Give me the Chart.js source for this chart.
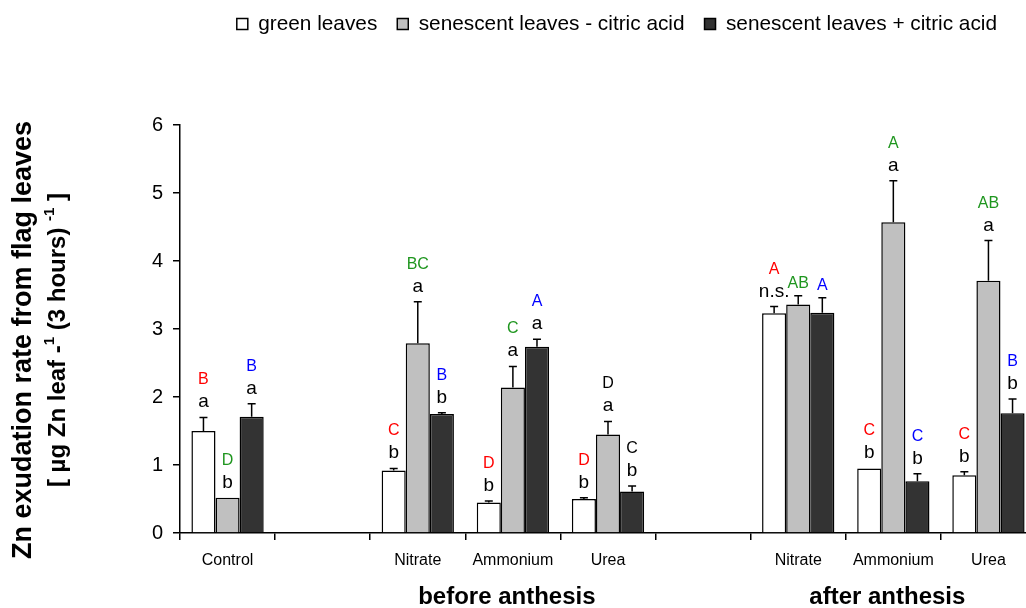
<!DOCTYPE html>
<html>
<head>
<meta charset="utf-8">
<script src="https://cdn.jsdelivr.net/npm/chart.js@4"></script>
<style>
    html, body { margin: 0; padding: 0; background: #fff; overflow: hidden; }
</style>
</head>
<body>
<canvas id="zn-chart" width="1036" height="608"></canvas>
<script>
// categories along the x axis ('' = empty spacer slot)
const categories = ['Control', '', 'Nitrate', 'Ammonium', 'Urea', '', 'Nitrate', 'Ammonium', 'Urea'];
const seriesNames = ['green leaves', 'senescent leaves - citric acid', 'senescent leaves + citric acid'];

// mean Zn exudation rate
const greenLeaves    = [1.50, null, 0.92, 0.45, 0.50, null, 3.23, 0.95, 0.85];
const senescentMinus = [0.52, null, 2.79, 2.14, 1.45, null, 3.36, 4.57, 3.71];
const senescentPlus  = [1.71, null, 1.75, 2.74, 0.61, null, 3.24, 0.76, 1.76];

// error (upper half of error bar)
const greenErr          = [0.20, null, 0.03, 0.02, 0.02, null, 0.10, 0.00, 0.05];
const senescentMinusErr = [0.00, null, 0.61, 0.31, 0.19, null, 0.13, 0.61, 0.59];
const senescentPlusErr  = [0.19, null, 0.02, 0.11, 0.08, null, 0.22, 0.11, 0.21];

// significance letters above the bars
const greenUpper          = ['B', '', 'C', 'D', 'D', '', 'A', 'C', 'C'];
const greenLower          = ['a', '', 'b', 'b', 'b', '', 'n.s.', 'b', 'b'];
const senescentMinusUpper = ['D', '', 'BC', 'C', 'D', '', 'AB', 'A', 'AB'];
const senescentMinusLower = ['b', '', 'a', 'a', 'a', '', '', 'a', 'a'];
const senescentPlusUpper  = ['B', '', 'B', 'A', 'C', '', 'A', 'C', 'B'];
const senescentPlusLower  = ['a', '', 'b', 'a', 'b', '', '', 'b', 'b'];

const yTicks = [0, 1, 2, 3, 4, 5, 6];
const groupLabels = ['before anthesis', 'after anthesis'];
const groupCenters = [3, 7]; // category index each group label sits under

// colours of the capital letters (a few are printed in black)
const RED = '#ff0000', GREEN = '#1f961f', BLUE = '#0000ff', BLK = '#000000';
const greenUpperColor = Array(9).fill(RED);
const minusUpperColor = [GREEN, GREEN, GREEN, GREEN, BLK, GREEN, GREEN, GREEN, GREEN];
const plusUpperColor  = [BLUE, BLUE, BLUE, BLUE, BLK, BLUE, BLUE, BLUE, BLUE];

const FONT = "'Liberation Sans', Arial, sans-serif";
Chart.defaults.font.family = FONT;
Chart.defaults.color = '#000';

// error bars + letters
const errorBars = {
    id: 'errorBars',
    afterDatasetsDraw(chart) {
        const ctx = chart.ctx;
        const yScale = chart.scales.y;
        ctx.save();
        chart.data.datasets.forEach((ds, i) => {
            const meta = chart.getDatasetMeta(i);
            meta.data.forEach((bar, j) => {
                const v = ds.data[j];
                if (v == null) return;
                const top = yScale.getPixelForValue(v + ds.errors[j]);
                ctx.strokeStyle = '#000';
                ctx.lineWidth = 1.5;
                if (ds.errors[j] > 0) {
                    ctx.beginPath();
                    ctx.moveTo(bar.x, bar.y);
                    ctx.lineTo(bar.x, top);
                    ctx.moveTo(bar.x - 4, top);
                    ctx.lineTo(bar.x + 4, top);
                    ctx.stroke();
                }
                ctx.textAlign = 'center';
                ctx.textBaseline = 'alphabetic';
                let base;
                if (ds.lower[j]) {
                    base = top - 10;
                    ctx.fillStyle = '#000';
                    ctx.font = '19px ' + FONT;
                    ctx.fillText(ds.lower[j], bar.x, base);
                    base -= 23;
                } else {
                    base = top - 8;
                }
                if (ds.upper[j]) {
                    ctx.fillStyle = ds.upperColor[j];
                    ctx.font = '16px ' + FONT;
                    ctx.fillText(ds.upper[j], bar.x, base);
                }
            });
        });
        ctx.restore();
    }
};

// y title, group labels, legend placement
const extras = {
    id: 'extras',
    afterLayout(chart) {
        // pull legend up into the top margin and right-align it
        const lg = chart.legend;
        const h = lg.bottom - lg.top;
        lg.top = -6.4;
        lg.bottom = lg.top + h;
        lg.right = 1017;
    },
    afterDraw(chart) {
        const ctx = chart.ctx;
        const area = chart.chartArea;
        const x = chart.scales.x;
        ctx.save();
        ctx.fillStyle = '#000';
        ctx.textAlign = 'center';
        ctx.textBaseline = 'middle';
        ctx.font = 'bold 24px ' + FONT;
        groupLabels.forEach((t, k) => {
            ctx.fillText(t, x.getPixelForValue(groupCenters[k]) - 6, 597);
        });

        // y axis title, two rotated lines
        const cy = (area.top + area.bottom) / 2 + 11;
        ctx.translate(0, cy);
        ctx.rotate(-Math.PI / 2);
        ctx.textAlign = 'center';
        ctx.font = 'bold 27px ' + FONT;
        ctx.fillText('Zn exudation rate from flag leaves', 0, 24);

        const parts = [
            ['[ \u00b5g Zn leaf -', false],
            ['1', true],
            [' (3 hours) ', false],
            ['-1', true],
            [' ]', false]
        ];
        const big = 'bold 24px ' + FONT, small = 'bold 15px ' + FONT;
        let total = 0;
        parts.forEach(p => { ctx.font = p[1] ? small : big; total += ctx.measureText(p[0]).width; });
        let px = -total / 2;
        ctx.textAlign = 'left';
        parts.forEach(p => {
            ctx.font = p[1] ? small : big;
            ctx.fillText(p[0], px, p[1] ? 50 : 58);
            px += ctx.measureText(p[0]).width;
        });
        ctx.restore();
    }
};

const ctx = document.getElementById('zn-chart').getContext('2d');
const znChart = new Chart(ctx, {
    type: 'bar',
    data: {
        labels: categories,
        datasets: [{
            label: seriesNames[0],
            data: greenLeaves,
            errors: greenErr,
            upper: greenUpper,
            lower: greenLower,
            upperColor: greenUpperColor,
            backgroundColor: '#ffffff',
            borderColor: '#000',
            borderWidth: 1.5,
        }, {
            label: seriesNames[1],
            data: senescentMinus,
            errors: senescentMinusErr,
            upper: senescentMinusUpper,
            lower: senescentMinusLower,
            upperColor: minusUpperColor,
            backgroundColor: '#c0c0c0',
            borderColor: '#000',
            borderWidth: 1.5,
        }, {
            label: seriesNames[2],
            data: senescentPlus,
            errors: senescentPlusErr,
            upper: senescentPlusUpper,
            lower: senescentPlusLower,
            upperColor: plusUpperColor,
            backgroundColor: '#333333',
            borderColor: '#000',
            borderWidth: 1.5,
        }]
    },
    options: {
        responsive: false,
        animation: false,
        categoryPercentage: 0.76,
        barPercentage: 1.0,
        layout: { padding: { top: 74.2, left: 140, right: 0, bottom: 0 } },
        plugins: {
            tooltip: { enabled: false },
            legend: {
                position: 'top',
                align: 'end',
                labels: {
                    boxWidth: 11,
                    boxHeight: 11,
                    padding: 20,
                    color: '#000',
                    font: { size: 20.8 },
                },
            },
        },
        scales: {
            x: {
                offset: true,
                grid: { offset: true, drawOnChartArea: false, drawTicks: true, tickLength: 7, color: '#000', lineWidth: 1.5 },
                border: { color: '#000', width: 1.5 },
                ticks: { font: { size: 16 }, color: '#000', padding: 11, autoSkip: false, maxRotation: 0 },
                afterFit(scale) { scale.height = 75; },
            },
            y: {
                min: 0,
                max: 6,
                afterBuildTicks(scale) { scale.ticks = yTicks.map(v => ({ value: v })); },
                grid: { drawOnChartArea: false, drawTicks: true, tickLength: 7, color: '#000', lineWidth: 1.5 },
                border: { color: '#000', width: 1.5 },
                ticks: { font: { size: 20 }, color: '#000', padding: 10 },
                afterFit(scale) { scale.width = 40; },
            },
        },
    },
    plugins: [errorBars, extras],
});
</script>
</body>
</html>
